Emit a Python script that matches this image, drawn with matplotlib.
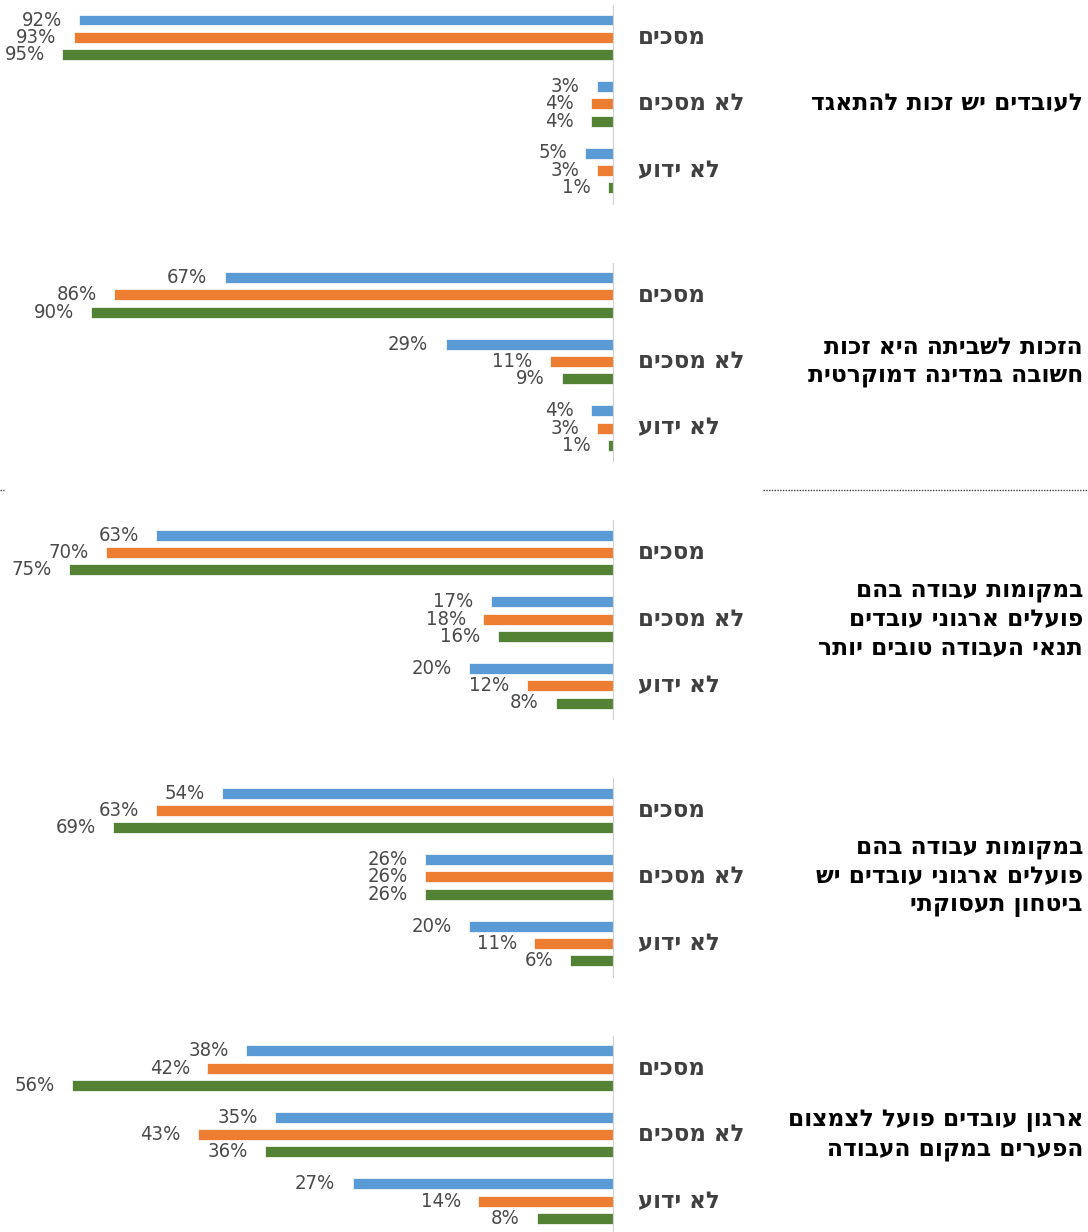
import matplotlib.pyplot as plt
from matplotlib.lines import Line2D

# data
answers = ['מסכים', 'לא מסכים', 'לא ידוע']
titles = [
    ['לעובדים יש זכות להתאגד'],
    ['הזכות לשביתה היא זכות', 'חשובה במדינה דמוקרטית'],
    ['במקומות עבודה בהם', 'פועלים ארגוני עובדים', 'תנאי העבודה טובים יותר'],
    ['במקומות עבודה בהם', 'פועלים ארגוני עובדים יש', 'ביטחון תעסוקתי'],
    ['ארגון עובדים פועל לצמצום', 'הפערים במקום העבודה'],
]
# per panel: rows = answers, cols = series (blue, orange, green)
blue = [[92, 3, 5], [67, 29, 4], [63, 17, 20], [54, 26, 20], [38, 35, 27]]
orange = [[93, 4, 3], [86, 11, 3], [70, 18, 12], [63, 26, 11], [42, 43, 14]]
green = [[95, 4, 1], [90, 9, 1], [75, 16, 8], [69, 26, 6], [56, 36, 8]]
axis_max = [100, 100, 80, 80, 60]

colors = ['#5b9bd5', '#ed7d31', '#548235']
W, H = 1088, 1232


def rtl(s):
    # matplotlib has no bidi, so flip the Hebrew for display
    return s[::-1]


fig = plt.figure(figsize=(W / 100, H / 100), dpi=100)

cat_px = 66.5
ser_px = 17.3
x0, x1 = 33, 614

for i in range(5):
    top = 20 + 257.7 * i
    ax_top = top - 15
    ax_bot = top + 2 * cat_px + 2 * ser_px + 17
    ax = fig.add_axes([x0 / W, 1 - ax_bot / H, (x1 - x0) / W, (ax_bot - ax_top) / H])
    ax.set_xlim(axis_max[i], 0)
    ax.set_ylim((ax_bot - top) / cat_px, (ax_top - top) / cat_px)
    ax.axis('off')
    ax.axvline(0, color='#d0d0d0', lw=1.6)
    series = [blue[i], orange[i], green[i]]
    for s, vals in enumerate(series):
        for c, v in enumerate(vals):
            y = c + s * ser_px / cat_px
            ax.barh(y, v, height=11 / cat_px, color=colors[s], edgecolor='white', linewidth=0.5)
            ax.annotate(f'{v}%', (v, y), xytext=(-12.5, 0), textcoords='offset points',
                        ha='right', va='center', fontsize=14.5, color='#4a4a4a',
                        family='DejaVu Sans', fontstretch='condensed', annotation_clip=False)
    for c, a in enumerate(answers):
        py = top + c * cat_px + ser_px
        fig.text(638 / W, 1 - py / H, rtl(a), ha='left', va='center', fontsize=16.5,
                 fontweight='bold', color='#404040', family='DejaVu Sans')
    mid = top + cat_px + ser_px
    fig.text(1083 / W, 1 - mid / H, '\n'.join(rtl(t) for t in titles[i]), ha='right', va='center',
             multialignment='right', fontsize=16.8, fontweight='bold', color='black',
             family='DejaVu Sans', linespacing=1.3)

# dotted separator
sep_y = 1 - 490 / H
fig.add_artist(Line2D([0, 4 / W], [sep_y, sep_y], color='#404040', lw=1, ls=(0, (1, 1))))
fig.add_artist(Line2D([763 / W, 1], [sep_y, sep_y], color='#404040', lw=1, ls=(0, (1, 1))))

fig.savefig('out.png', dpi=100)
